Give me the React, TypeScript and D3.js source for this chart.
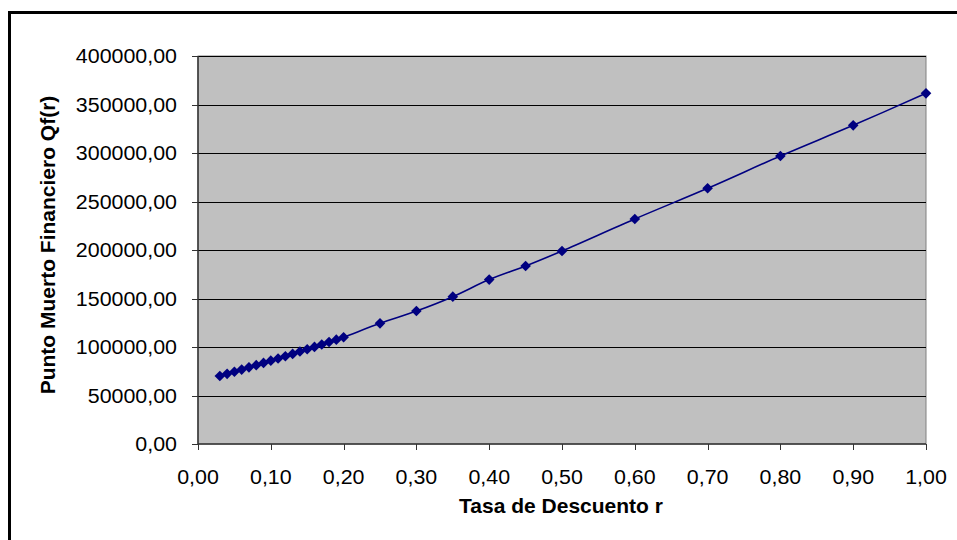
import React from "react";
import * as d3 from "d3";

const rates = [0.03,0.04,0.05,0.06,0.07,0.08,0.09,0.10,0.11,0.12,0.13,0.14,0.15,0.16,0.17,0.18,0.19,0.20,0.25,0.30,0.35,0.40,0.45,0.50,0.60,0.70,0.80,0.90,1.00];
const qf = [70100,72300,74500,76700,79000,81300,83600,85900,88200,90500,92900,95300,97700,100100,102600,105100,107600,110100,124400,137100,151900,169500,183500,199000,232000,263600,296900,328500,361500];
const yTicks = [0,50000,100000,150000,200000,250000,300000,350000,400000];
const xTicks = [0,0.1,0.2,0.3,0.4,0.5,0.6,0.7,0.8,0.9,1.0];
const xTitle = "Tasa de Descuento r";
const yTitle = "Punto Muerto Financiero Qf(r)";

const fmt = (v: number) => v.toFixed(2).replace(".", ",");

export default function App() {
  const L = 198, R = 926, T = 56, B = 444;
  const x = d3.scaleLinear().domain([0, 1]).range([L, R]);
  const y = d3.scaleLinear().domain([0, 400000]).range([B, T]);
  const pts = rates.map((r, i) => [x(r), y(qf[i])] as [number, number]);
  const line = d3.line().curve(d3.curveCatmullRom.alpha(0.5))(pts) || "";
  const diamond = d3.symbol().type(d3.symbolDiamond2).size(72)() || "";
  const font = "'Liberation Sans', Arial, sans-serif";
  return (
    <svg width={957} height={540} style={{ position: "absolute", left: 0, top: 0 }} fontFamily={font}>
      <rect x={0} y={0} width={957} height={540} fill="#fff" />
      <rect x={9.5} y={12.5} width={1000} height={600} fill="none" stroke="#000" strokeWidth={3} />
      <rect x={L} y={T} width={R - L} height={B - T} fill="#c0c0c0" stroke="#808080" strokeWidth={1} />
      {yTicks.filter(t => t > 0).map(t => (
        <line key={"g" + t} x1={L} x2={R} y1={Math.round(y(t)) + 0.5} y2={Math.round(y(t)) + 0.5} stroke="#000" strokeWidth={1} />
      ))}
      <line x1={L} x2={L} y1={T} y2={B} stroke="#333" strokeWidth={1.5} />
      <line x1={L} x2={R} y1={B} y2={B} stroke="#333" strokeWidth={1.5} />
      {yTicks.map(t => (
        <g key={"y" + t}>
          <line x1={L - 6} x2={L} y1={Math.round(y(t)) + 0.5} y2={Math.round(y(t)) + 0.5} stroke="#333" strokeWidth={1} />
          <text transform={`translate(177,${y(t)}) scale(1.07,1)`} dy="0.36em" textAnchor="end" fontSize={20} fill="#000">{fmt(t)}</text>
        </g>
      ))}
      {xTicks.map(t => (
        <g key={"x" + t}>
          <line x1={Math.round(x(t)) + 0.5} x2={Math.round(x(t)) + 0.5} y1={B} y2={B + 6} stroke="#333" strokeWidth={1} />
          <text transform={`translate(${x(t)},484) scale(1.07,1)`} textAnchor="middle" fontSize={20} fill="#000">{fmt(t)}</text>
        </g>
      ))}
      <path d={line} fill="none" stroke="#000080" strokeWidth={1.6} />
      {pts.map((p, i) => (
        <path key={"m" + i} d={diamond} transform={`translate(${p[0]},${p[1]})`} fill="#000080" />
      ))}
      <text transform={`translate(561,513) scale(1.05,1)`} textAnchor="middle" fontSize={20} fontWeight="bold" fill="#000">{xTitle}</text>
      <text transform={`translate(55,245) rotate(-90) scale(1.05,1)`} textAnchor="middle" fontSize={20} fontWeight="bold" fill="#000">{yTitle}</text>
    </svg>
  );
}
